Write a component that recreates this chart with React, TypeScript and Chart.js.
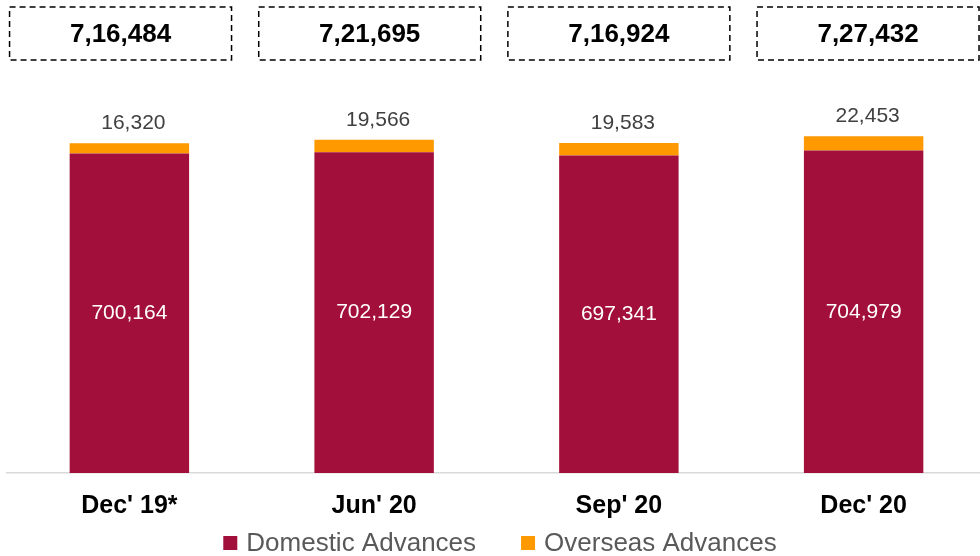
import React, { useEffect, useRef } from "react";
import { Chart, registerables } from "chart.js";

Chart.register(...registerables);

const categories = ["Dec' 19*", "Jun' 20", "Sep' 20", "Dec' 20"];
const domesticAdvances = [700164, 702129, 697341, 704979];
const overseasAdvances = [16320, 19566, 19583, 22453];
const seriesNames = ["Domestic Advances", "Overseas Advances"];

const DOMESTIC_COLOR = "#A20F3A";
const OVERSEAS_COLOR = "#FF9900";
const FONT = "'Liberation Sans', Arial, sans-serif";

function formatIndian(n: number): string {
  const s = String(Math.round(n));
  if (s.length <= 3) return s;
  const last3 = s.slice(-3);
  let rest = s.slice(0, -3);
  const parts: string[] = [];
  while (rest.length > 2) {
    parts.unshift(rest.slice(-2));
    rest = rest.slice(0, -2);
  }
  if (rest.length) parts.unshift(rest);
  return parts.join(",") + "," + last3;
}

function formatWestern(n: number): string {
  return String(Math.round(n)).replace(/\B(?=(\d{3})+(?!\d))/g, ",");
}

const labelsPlugin = {
  id: "customLabels",
  afterDatasetsDraw(chart: any) {
    const ctx = chart.ctx;
    const area = chart.chartArea;
    const metaD = chart.getDatasetMeta(0);
    const metaO = chart.getDatasetMeta(1);
    ctx.save();
    ctx.textAlign = "center";
    ctx.textBaseline = "middle";
    // domestic labels
    ctx.font = `21px ${FONT}`;
    ctx.fillStyle = "#FFFFFF";
    metaD.data.forEach((bar: any, i: number) => {
      const base = Math.min(bar.base, area.bottom);
      ctx.fillText(formatWestern(domesticAdvances[i]), bar.x, (bar.y + base) / 2);
    });
    // overseas labels
    ctx.fillStyle = "#404040";
    metaO.data.forEach((bar: any, i: number) => {
      ctx.fillText(formatWestern(overseasAdvances[i]), bar.x + 4, bar.y - 20);
    });
    // total boxes
    const boxW = 222;
    const boxTop = 7;
    const boxH = 53;
    metaD.data.forEach((bar: any, i: number) => {
      const total = domesticAdvances[i] + overseasAdvances[i];
      const cx = bar.x + (bar.x - 619) * 0.018;
      ctx.setLineDash([6, 4]);
      ctx.lineWidth = 1.5;
      ctx.strokeStyle = "#000000";
      ctx.strokeRect(cx - boxW / 2, boxTop, boxW, boxH);
      ctx.setLineDash([]);
      ctx.font = `bold 26px ${FONT}`;
      ctx.fillStyle = "#000000";
      ctx.fillText(formatIndian(total), cx, boxTop + boxH / 2 + 1);
    });
    // legend
    ctx.font = `26px ${FONT}`;
    ctx.textAlign = "left";
    const colors = [DOMESTIC_COLOR, OVERSEAS_COLOR];
    const box = 14;
    const gapBoxText = 9;
    const gapItems = 45;
    const widths = seriesNames.map((n) => box + gapBoxText + ctx.measureText(n).width);
    const total = widths.reduce((a, b) => a + b, 0) + gapItems;
    let x = 500 - total / 2;
    const cy = 543;
    seriesNames.forEach((n, i) => {
      ctx.fillStyle = colors[i];
      ctx.fillRect(x, cy - box / 2, box, box);
      ctx.fillStyle = "#595959";
      ctx.fillText(n, x + box + gapBoxText, cy + 1);
      x += widths[i] + gapItems;
    });
    ctx.restore();
  },
};

export default function App() {
  const canvasRef = useRef<HTMLCanvasElement | null>(null);

  useEffect(() => {
    if (!canvasRef.current) return;
    const chart = new Chart(canvasRef.current, {
      type: "bar",
      data: {
        labels: categories,
        datasets: [
          {
            label: seriesNames[0],
            data: domesticAdvances,
            backgroundColor: DOMESTIC_COLOR,
            barPercentage: 0.488,
            categoryPercentage: 1,
          },
          {
            label: seriesNames[1],
            data: overseasAdvances,
            backgroundColor: OVERSEAS_COLOR,
            barPercentage: 0.488,
            categoryPercentage: 1,
          },
        ],
      },
      options: {
        responsive: false,
        animation: false,
        devicePixelRatio: 1,
        layout: { padding: { left: 7, right: 4, top: 26, bottom: 17 } },
        plugins: {
          legend: { display: false },
          tooltip: { enabled: false },
        },
        scales: {
          x: {
            stacked: true,
            grid: { display: false, drawTicks: false },
            border: { display: true, color: "#D9D9D9", width: 1.5 },
            ticks: {
              color: "#000000",
              padding: 18,
              font: { family: FONT, size: 25, weight: "bold" },
            },
          },
          y: {
            stacked: true,
            display: false,
            min: 200000,
            max: 900000,
          },
        },
      },
      plugins: [labelsPlugin],
    });
    return () => chart.destroy();
  }, []);

  return (
    <div
      style={{
        position: "fixed",
        left: 0,
        top: 0,
        width: 980,
        height: 556,
        overflow: "hidden",
        background: "#FFFFFF",
      }}
    >
      <canvas ref={canvasRef} width={990} height={556} style={{ display: "block" }} />
    </div>
  );
}
